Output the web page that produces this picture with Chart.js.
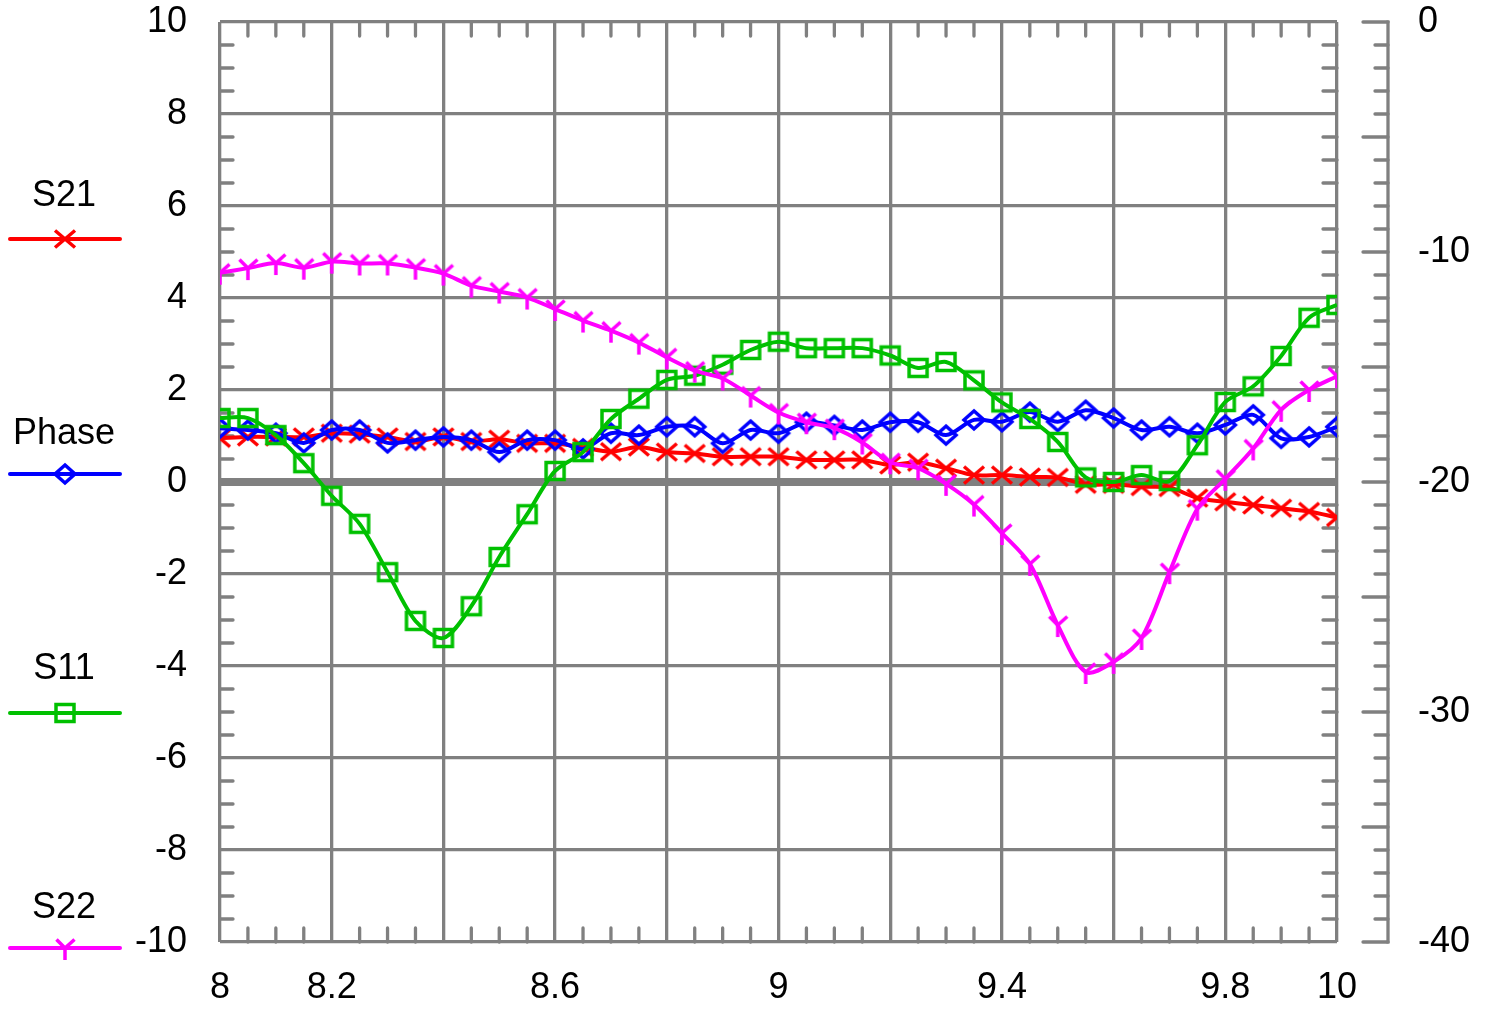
<!DOCTYPE html>
<html>
<head>
<meta charset="utf-8">
<script src="https://cdn.jsdelivr.net/npm/chart.js@4.4.1/dist/chart.umd.min.js"></script>
<style>
html, body { margin: 0; padding: 0; background: #fff; }
#wrap { width: 1489px; height: 1010px; }
</style>
</head>
<body>
<div id="wrap"><canvas id="chart" width="1489" height="1010"></canvas></div>
<script>
// frequency points (GHz)
const freq = [8.00, 8.05, 8.10, 8.15, 8.20, 8.25, 8.30, 8.35, 8.40, 8.45,
              8.50, 8.55, 8.60, 8.65, 8.70, 8.75, 8.80, 8.85, 8.90, 8.95,
              9.00, 9.05, 9.10, 9.15, 9.20, 9.25, 9.30, 9.35, 9.40, 9.45,
              9.50, 9.55, 9.60, 9.65, 9.70, 9.75, 9.80, 9.85, 9.90, 9.95, 10.00];
const s21 = [0.95, 0.98, 0.98, 0.98, 1.06, 1.04, 0.98, 0.88, 0.98, 0.88,
             0.93, 0.84, 0.84, 0.75, 0.66, 0.76, 0.65, 0.62, 0.55, 0.55,
             0.55, 0.48, 0.48, 0.48, 0.37, 0.43, 0.30, 0.15, 0.15, 0.11,
             0.10, -0.05, -0.05, -0.10, -0.12, -0.35, -0.43, -0.50, -0.57, -0.64, -0.77];
const phase = [1.17, 1.13, 1.06, 0.85, 1.13, 1.13, 0.85, 0.91, 0.98, 0.91,
               0.65, 0.91, 0.91, 0.72, 1.06, 1.02, 1.20, 1.20, 0.84, 1.13,
               1.06, 1.30, 1.23, 1.13, 1.30, 1.30, 1.02, 1.35, 1.31, 1.52,
               1.31, 1.56, 1.39, 1.13, 1.20, 1.06, 1.24, 1.46, 0.95, 0.98, 1.20];
const s11 = [1.39, 1.39, 1.02, 0.41, -0.30, -0.91, -1.96, -3.02, -3.39, -2.70,
             -1.63, -0.70, 0.24, 0.65, 1.37, 1.81, 2.22, 2.31, 2.55, 2.87,
             3.05, 2.91, 2.91, 2.91, 2.75, 2.48, 2.61, 2.21, 1.73, 1.37,
             0.87, 0.10, 0.00, 0.15, 0.02, 0.80, 1.74, 2.08, 2.74, 3.57, 3.85];
const s22 = [4.55, 4.65, 4.76, 4.66, 4.79, 4.75, 4.75, 4.66, 4.53, 4.27,
             4.14, 4.01, 3.76, 3.51, 3.29, 3.03, 2.71, 2.42, 2.25, 1.88,
             1.51, 1.30, 1.17, 0.86, 0.43, 0.30, -0.04, -0.49, -1.11, -1.78,
             -3.11, -4.13, -3.91, -3.39, -1.96, -0.58, 0.07, 0.73, 1.57, 2.00, 2.30];
const xTickLabels = [8, 8.2, 8.6, 9, 9.4, 9.8, 10];

const GRID = '#808080';
const FONT = { family: 'Liberation Sans, Arial, sans-serif', size: 36 };

// little hollow marker images
function makeMarker(kind, color) {
    const c = document.createElement('canvas');
    c.width = 32; c.height = 32;
    const g = c.getContext('2d');
    const m = 16;
    g.strokeStyle = color;
    g.lineWidth = 3.5;
    g.beginPath();
    if (kind === 'x') {
        g.moveTo(m - 10, m - 8.5); g.lineTo(m + 10, m + 8.5);
        g.moveTo(m + 10, m - 8.5); g.lineTo(m - 10, m + 8.5);
    } else if (kind === 'diamond') {
        g.moveTo(m, m - 9); g.lineTo(m + 10, m); g.lineTo(m, m + 9); g.lineTo(m - 10, m); g.closePath();
    } else if (kind === 'square') {
        g.rect(m - 9, m - 8.5, 18, 17);
    } else if (kind === 'y') {
        g.moveTo(m - 8.5, m - 8.5); g.lineTo(m, m);
        g.lineTo(m + 9.5, m - 8.5);
        g.moveTo(m, m); g.lineTo(m, m + 12);
    }
    g.stroke();
    return c;
}

const series = [
    { label: 'S21', values: s21, color: '#ff0000', marker: makeMarker('x', '#ff0000'), order: 4 },
    { label: 'Phase', values: phase, color: '#0000ff', marker: makeMarker('diamond', '#0000ff'), order: 3 },
    { label: 'S11', values: s11, color: '#00c000', marker: makeMarker('square', '#00c000'), order: 2 },
    { label: 'S22', values: s22, color: '#ff00ff', marker: makeMarker('y', '#ff00ff'), order: 1 }
];

// inner tick marks round the frame and the separate dB axis on the right
const frameTicks = {
    id: 'frameTicks',
    beforeDatasetsDraw(chart) {
        const { ctx, chartArea: a, scales: { x, y } } = chart;
        ctx.save();
        ctx.strokeStyle = GRID;
        ctx.lineWidth = 3.3;
        ctx.lineCap = 'round';
        ctx.beginPath();
        for (let i = 1; i < 40; i++) {
            if (i % 4 === 0) continue;
            const px = x.getPixelForValue(8 + i * 0.05);
            ctx.moveTo(px, a.top); ctx.lineTo(px, a.top + 14);
            ctx.moveTo(px, a.bottom); ctx.lineTo(px, a.bottom - 14);
        }
        for (let i = 1; i < 40; i++) {
            if (i % 4 === 0) continue;
            const py = y.getPixelForValue(-10 + i * 0.5);
            ctx.moveTo(a.left, py); ctx.lineTo(a.left + 13, py);
            ctx.moveTo(a.right, py); ctx.lineTo(a.right - 14, py);
        }
        ctx.stroke();
        ctx.restore();
    },
    afterDraw(chart) {
        const { ctx, scales: { y2 } } = chart;
        const sx = 1388;
        ctx.save();
        ctx.strokeStyle = GRID;
        ctx.lineWidth = 3.3;
        ctx.beginPath();
        ctx.moveTo(sx, y2.getPixelForValue(0) - 1.5);
        ctx.lineTo(sx, y2.getPixelForValue(-40) + 1.5);
        ctx.stroke();
        ctx.lineCap = 'round';
        ctx.beginPath();
        for (let d = 0; d <= 40; d++) {
            const py = y2.getPixelForValue(-d);
            const len = d % 5 === 0 ? 25 : 13;
            ctx.moveTo(sx, py); ctx.lineTo(sx - len, py);
        }
        ctx.stroke();
        ctx.restore();
    }
};

// legend on the left: name above a short line with its marker
const sideLegend = {
    id: 'sideLegend',
    afterDraw(chart) {
        const ctx = chart.ctx;
        const textY = [194, 432, 667, 906];
        const lineY = [239, 474, 713, 948];
        ctx.save();
        ctx.font = '36px "Liberation Sans", Arial, sans-serif';
        ctx.textAlign = 'center';
        ctx.textBaseline = 'middle';
        ctx.fillStyle = '#000';
        series.forEach((s, i) => {
            ctx.fillText(s.label, 64, textY[i] + 2);
            ctx.strokeStyle = s.color;
            ctx.lineWidth = 4;
            ctx.lineCap = 'round';
            ctx.beginPath();
            ctx.moveTo(10, lineY[i]);
            ctx.lineTo(120, lineY[i]);
            ctx.stroke();
            ctx.drawImage(s.marker, 65 - 16, lineY[i] - 16);
        });
        ctx.restore();
    }
};

// keep the plot box where it is: no extra room for tick labels
function noPad(s) {
    s.paddingTop = 0; s.paddingBottom = 0;
    s.paddingLeft = 0; s.paddingRight = 0;
}

const ctx = document.getElementById('chart').getContext('2d');
const chart = new Chart(ctx, {
    type: 'line',
    data: {
        datasets: series.map(s => ({
            label: s.label,
            data: freq.map((f, i) => ({ x: f, y: s.values[i] })),
            borderColor: s.color,
            backgroundColor: 'transparent',
            borderWidth: 4,
            pointStyle: s.marker,
            pointRadius: 10,
            tension: 0.3,
            fill: false,
            order: s.order,
            yAxisID: 'y'
        }))
    },
    options: {
        responsive: false,
        animation: false,
        devicePixelRatio: 1,
        layout: { padding: { top: 22, left: 0, right: 0, bottom: 0 } },
        plugins: {
            legend: { display: false },
            tooltip: { enabled: false }
        },
        scales: {
            x: {
                type: 'linear',
                min: 8,
                max: 10,
                ticks: {
                    stepSize: 0.2,
                    autoSkip: false,
                    maxRotation: 0,
                    color: '#000',
                    font: FONT,
                    padding: 24,
                    callback: (v) => {
                        const r = Math.round(v * 10) / 10;
                        return xTickLabels.includes(r) ? String(r) : '';
                    }
                },
                grid: { color: GRID, lineWidth: 3.3, drawTicks: false },
                border: { display: false },
                afterFit: (s) => { s.height = 68; noPad(s); }
            },
            y: {
                position: 'left',
                min: -10,
                max: 10,
                ticks: { stepSize: 2, color: '#000', font: FONT, padding: 33 },
                grid: {
                    color: GRID,
                    lineWidth: (c) => (c.tick && c.tick.value === 0 ? 8 : 3.3),
                    drawTicks: false
                },
                border: { display: false },
                afterFit: (s) => { s.width = 220; noPad(s); }
            },
            y2: {
                position: 'right',
                min: -40,
                max: 0,
                display: true,
                ticks: { stepSize: 10, color: '#000', font: FONT, padding: 81 },
                grid: { display: false, drawTicks: false, drawOnChartArea: false },
                border: { display: false },
                afterFit: (s) => { s.width = 152; noPad(s); }
            }
        }
    },
    plugins: [frameTicks, sideLegend]
});
</script>
</body>
</html>
